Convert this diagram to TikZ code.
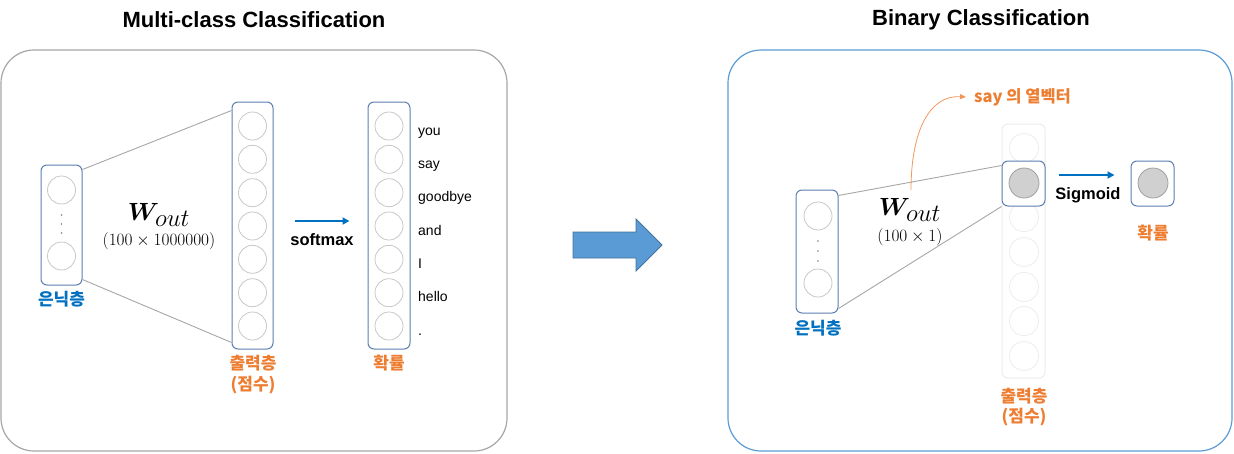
\documentclass[tikz,border=0pt]{standalone}
\usepackage{amsmath,bm}
\usepackage{fontspec}
\setmainfont{Liberation Sans}
\newfontfamily\kr{Noto Sans CJK KR}
\usetikzlibrary{arrows.meta,calc}
\definecolor{boxc}{HTML}{5B7FB1}
\definecolor{circc}{HTML}{C8C8C8}
\definecolor{linec}{HTML}{A6A6A6}
\definecolor{bluet}{HTML}{0070C0}
\definecolor{oranget}{HTML}{ED7D31}
\definecolor{panelb}{HTML}{5B9BD5}
\definecolor{fadec}{HTML}{ECECEC}
\definecolor{arrowf}{HTML}{5B9BD5}
\definecolor{arrowd}{HTML}{41719C}
\tikzset{
  layerbox/.style={draw=boxc, line width=1pt, rounded corners=6pt, fill=white, inner sep=0pt},
  fadebox/.style={draw=fadec, line width=1pt, rounded corners=6pt, inner sep=0pt},
  neuron/.style={circle, draw=circc, line width=0.8pt, minimum size=28pt, inner sep=0pt},
  fneuron/.style={circle, draw=fadec, line width=0.8pt, minimum size=29pt, inner sep=0pt},
  hneuron/.style={circle, draw=circc!80!black, fill=circc!85!white, line width=0.8pt, minimum size=30pt, inner sep=0pt},
  conn/.style={draw=linec, line width=0.9pt},
  dotc/.style={circle, fill=gray, inner sep=0pt, minimum size=1.6pt},
  title/.style={font=\fontsize{22}{24}\selectfont\bfseries},
  krblue/.style={font=\kr\bfseries\fontsize{17}{19}\selectfont, text=bluet, inner sep=0pt},
  krorange/.style={font=\kr\bfseries\fontsize{17}{19}\selectfont, text=oranget, inner sep=0pt},
  word/.style={font=\fontsize{14}{16}\selectfont, anchor=base west, inner sep=0pt},
  opname/.style={font=\bfseries\fontsize{16.5}{18}\selectfont, inner sep=0pt},
  oparrow/.style={draw=bluet, line width=2pt, -{Triangle[length=7pt,width=7pt]}},
  wlabel/.style={font=\fontsize{25}{27}\selectfont, inner sep=0pt},
  dimlabel/.style={font=\fontsize{17}{19}\selectfont, inner sep=0pt},
}
\begin{document}
\begin{tikzpicture}[x=1pt,y=-1pt]
\useasboundingbox (0,0) rectangle (1234,453);
% titles
\node[title] (t1) at (254,20) {Multi-class Classification};
\node[title] (t2) at (981,20) {Binary Classification};
% panels
\draw[draw=linec, line width=1.2pt, rounded corners=33pt] (1,50) rectangle (507,451);
\draw[draw=panelb, line width=1.2pt, rounded corners=33pt] (728,50) rectangle (1232,451);
% big arrow
\draw[fill=arrowf, draw=arrowd, line width=0.8pt] (573,232) -- (636,232) -- (636,219) -- (662,245) -- (636,271) -- (636,258) -- (573,258) -- cycle;

% ===== left panel =====
\node[layerbox, minimum width=41pt, minimum height=120pt] (h1) at (61.5,225) {};
\node[neuron] (h1a) at (61.5,190) {};
\node[neuron] (h1b) at (61.5,256) {};
\node[dotc] (h1d1) at (61.5,215) {};
\node[dotc] (h1d2) at (61.5,224) {};
\node[dotc] (h1d3) at (61.5,233) {};
\node[krblue] (h1l) at (61.5,299) {은닉층};

\node[layerbox, minimum width=41pt, minimum height=247pt] (o1) at (252.5,225.5) {};
\foreach \i/\y in {1/126,2/159.3,3/192.7,4/226,5/259.3,6/292.7,7/326}
  \node[neuron] (o1n\i) at (252.5,\y) {};
\node[krorange] (o1l) at (253,363) {출력층};
\node[krorange] (o1m) at (253,385) {(점수)};

\node[layerbox, minimum width=42pt, minimum height=247pt] (p1) at (389,225.5) {};
\foreach \i/\y in {1/126,2/159.3,3/192.7,4/226,5/259.3,6/292.7,7/326}
  \node[neuron] (p1n\i) at (389,\y) {};
\node[krorange] (p1l) at (389,363) {확률};

\node[word] (w1) at (418,135) {you};
\node[word] (w2) at (418,168.3) {say};
\node[word] (w3) at (418,201.7) {goodbye};
\node[word] (w4) at (418,235) {and};
\node[word] (w5) at (418,268.3) {I};
\node[word] (w6) at (418,301.7) {hello};
\node[word] (w7) at (418,335) {.};

\draw[conn] ([yshift=-5pt]h1.north east) -- ([yshift=-9pt]o1.north west);
\draw[conn] ([yshift=6pt]h1.south east) -- ([yshift=7pt]o1.south west);

\node[wlabel] (wl1) at (159,215) {$\bm{W}_{\textstyle out}$};
\node[dimlabel] (dl1) at (159,241) {$(100\times 1000000)$};

\draw[oparrow] ([xshift=21pt,yshift=4.5pt]o1.east) -- ([xshift=-18pt,yshift=4.5pt]p1.west);
\node[opname] (sm) at (322,240) {softmax};

% ===== right panel =====
\node[layerbox, minimum width=42pt, minimum height=123pt] (h2) at (817,251.5) {};
\node[neuron] (h2a) at (818,216) {};
\node[neuron] (h2b) at (818,283) {};
\node[dotc] (h2d1) at (818,241) {};
\node[dotc] (h2d2) at (818,251) {};
\node[dotc] (h2d3) at (818,261) {};
\node[krblue] (h2l) at (818,328) {은닉층};

\node[fadebox, minimum width=43pt, minimum height=254pt] (o2) at (1023.5,251) {};
\foreach \i/\y in {1/148,2/183,3/217,4/252,5/287,6/321,7/356}
  \node[fneuron] (o2n\i) at (1024,\y) {};
\node[layerbox, minimum width=43pt, minimum height=45pt] (hl) at (1023.5,183.5) {};
\node[hneuron] (hln) at (1024,183) {};
\node[krorange] (o2l) at (1024,396) {출력층};
\node[krorange] (o2m) at (1024,417) {(점수)};

\node[layerbox, minimum width=43pt, minimum height=45pt] (p2) at (1152.5,183.5) {};
\node[hneuron] (p2n) at (1153,183) {};
\node[krorange] (p2l) at (1153,233) {확률};

\draw[conn] ([yshift=-6pt]h2.north east) -- ([yshift=-5pt]hl.north west);
\draw[conn] ([yshift=5pt]h2.south east) -- (hl.south west);

\node[wlabel] (wl2) at (910,210) {$\bm{W}_{\textstyle out}$};
\node[dimlabel] (dl2) at (910,237) {$(100\times 1)$};

\draw[oparrow] ([xshift=13pt,yshift=8.5pt]hl.east) -- ([xshift=-16pt,yshift=8.5pt]p2.west);
\node[opname] (sg) at (1088,195) {Sigmoid};

\coordinate (cs) at (911,190);
\node[font=\kr\bfseries\fontsize{16.5}{18}\selectfont, text=oranget, anchor=west, inner sep=0pt] (sayl) at (974,97) {say 의 열벡터};
\draw[draw=oranget!80, line width=0.8pt, -{Triangle[length=6pt,width=5pt]}] (cs) .. controls (911,130) and (930,95) .. ([xshift=-8pt]sayl.west);
\end{tikzpicture}
\end{document}
